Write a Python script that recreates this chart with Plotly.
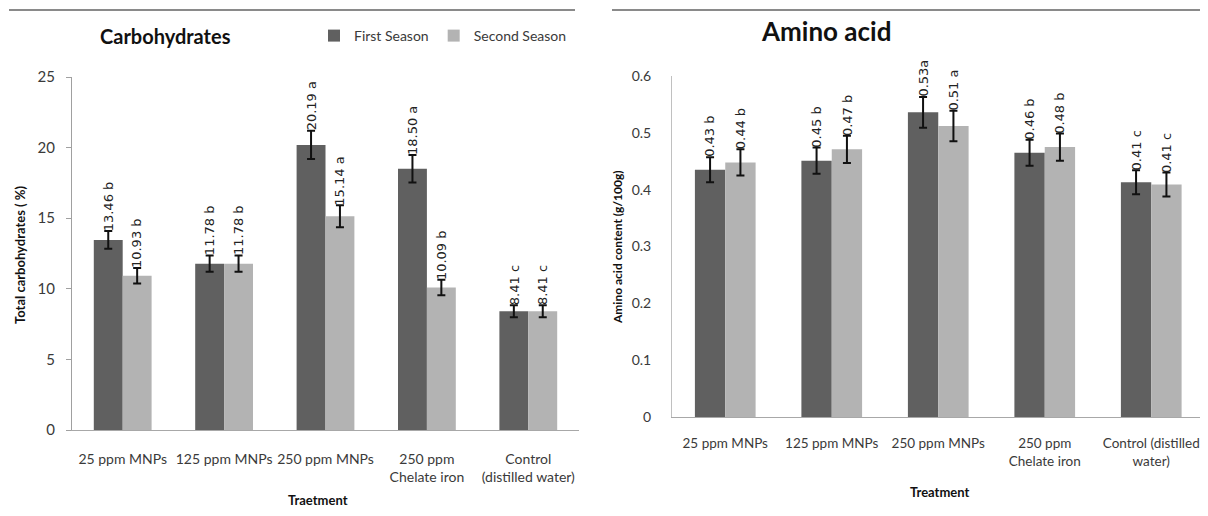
import plotly.graph_objects as go

# ---------------- data ----------------
carb_categories = ["25 ppm MNPs", "125 ppm MNPs", "250 ppm MNPs", "250 ppm<br>Chelate iron", "Control<br>(distilled water)"]
carb_first = [13.46, 11.78, 20.19, 18.50, 8.41]
carb_second = [10.93, 11.78, 15.14, 10.09, 8.41]
carb_first_err = [0.63, 0.58, 1.00, 0.97, 0.42]
carb_second_err = [0.55, 0.58, 0.78, 0.55, 0.42]
carb_first_labels = ["13.46 b", "11.78 b", "20.19 a", "18.50 a", "8.41 c"]
carb_second_labels = ["10.93 b", "11.78 b", "15.14 a", "10.09 b", "8.41 c"]
carb_ticks = [0, 5, 10, 15, 20, 25]

amino_categories = ["25 ppm MNPs", "125 ppm MNPs", "250 ppm MNPs", "250 ppm<br>Chelate iron", "Control (distilled<br>water)"]
amino_first = [0.435, 0.451, 0.536, 0.465, 0.413]
amino_second = [0.448, 0.471, 0.512, 0.475, 0.409]
amino_first_err = [0.022, 0.023, 0.027, 0.023, 0.021]
amino_second_err = [0.023, 0.024, 0.027, 0.024, 0.021]
amino_first_labels = ["0.43 b", "0.45 b", "0.53a", "0.46 b", "0.41 c"]
amino_second_labels = ["0.44 b", "0.47 b", "0.51 a", "0.48 b", "0.41 c"]
amino_ticks = [0, 0.1, 0.2, 0.3, 0.4, 0.5, 0.6]

series_names = ["First Season", "Second Season"]
DARK = "#606060"
LIGHT = "#b3b3b3"
TXT = "#3a3a3a"
FONT = "Lato"

# page body has an 8px margin: figure is sized so the page fits the window exactly
M = 8
W, H = 1208 - 2 * M, 516 - 2 * M

def px(x):  # screen x -> paper
    return (x - M) / W

def py(y):  # screen y -> paper
    return (H - (y - M)) / H

fig = go.Figure()

def add_bars(first, second, ferr, serr, cats, xa, ya, show):
    for vals, errs, color, name in [(first, ferr, DARK, series_names[0]), (second, serr, LIGHT, series_names[1])]:
        fig.add_trace(go.Bar(
            x=cats, y=vals, name=name, marker=dict(color=color, line=dict(width=0)),
            error_y=dict(type="data", array=errs, visible=True, color="#111111", thickness=2, width=4),
            xaxis=xa, yaxis=ya, showlegend=show, legendgroup=name,
        ))

add_bars(carb_first, carb_second, carb_first_err, carb_second_err, carb_categories, "x", "y", True)
add_bars(amino_first, amino_second, amino_first_err, amino_second_err, amino_categories, "x2", "y2", False)

BARGAP = 0.43
off = (1 - BARGAP) / 4

annotations = []
def add_labels(first, second, ferr, serr, fl, sl, xref, yref):
    for i in range(len(first)):
        for vals, errs, labs, sgn in [(first, ferr, fl, -1), (second, serr, sl, 1)]:
            annotations.append(dict(
                x=i + sgn * off, y=vals[i] + errs[i], xref=xref, yref=yref,
                text=labs[i], textangle=-90, showarrow=False,
                xanchor="center", yanchor="bottom", yshift=-2,
                font=dict(family="DejaVu Sans", size=13, color="#222222"),
            ))

add_labels(carb_first, carb_second, carb_first_err, carb_second_err, carb_first_labels, carb_second_labels, "x", "y")
add_labels(amino_first, amino_second, amino_first_err, amino_second_err, amino_first_labels, amino_second_labels, "x2", "y2")

def txt(x, y, text, size, angle=0, color="#111111"):
    return dict(x=px(x), y=py(y), xref="paper", yref="paper", text=text, showarrow=False,
                xanchor="center", yanchor="middle", textangle=angle,
                font=dict(family=FONT, size=size, color=color))

annotations += [
    txt(165, 36, "<b>Carbohydrates</b>", 20),
    txt(826, 31, "<b>Amino acid</b>", 26),
    txt(20, 255, "<b>Total carbohydrates (\u00a0%)</b>", 13, -90),
    txt(617, 247, "<b>Amino acid content (g/100g)</b>", 12, -90),
    txt(318, 500, "<b>Traetment</b>", 13),
    txt(940, 492, "<b>Treatment</b>", 13),
]

shapes = [
    dict(type="line", xref="paper", yref="paper", x0=px(9), x1=px(575), y0=py(10), y1=py(10),
         line=dict(color="#8a8a8a", width=2)),
    dict(type="line", xref="paper", yref="paper", x0=px(612), x1=1.0, y0=py(10), y1=py(10),
         line=dict(color="#8a8a8a", width=2)),
]

axis_common = dict(showgrid=False, zeroline=False, linewidth=1, showline=True, automargin=False)

# right chart: category spacing ~106px from the axis at x=672; the page cuts it at the window edge
sp2 = 106.5
x2_end = -0.5 + (1200 - 672) / sp2

fig.update_layout(
    template="none",
    width=W, height=H, autosize=False,
    margin=dict(l=0, r=0, t=0, b=0, pad=0),
    paper_bgcolor="white", plot_bgcolor="white",
    barmode="group", bargap=BARGAP, bargroupgap=0,
    font=dict(family=FONT, color=TXT),
    xaxis=dict(domain=[px(72), px(579)], anchor="y", **axis_common, linecolor="#a8a8a8",
               tickangle=0, tickfont=dict(family=FONT, size=14, color=TXT), ticks="", ticklabelstandoff=16),
    yaxis=dict(domain=[py(430), py(77)], anchor="x", range=[0, 25], tickvals=carb_ticks, **axis_common,
               linecolor="#a0a0a0", ticks="outside", ticklen=5, tickcolor="#a0a0a0",
               tickfont=dict(family=FONT, size=15, color=TXT), ticklabelstandoff=8),
    xaxis2=dict(domain=[px(672), 1.0], anchor="y2", range=[-0.5, x2_end], **axis_common, linecolor="#a8a8a8",
                tickangle=0, tickfont=dict(family=FONT, size=13.5, color=TXT), ticks="", ticklabelstandoff=14),
    yaxis2=dict(domain=[py(417), py(76)], anchor="x2", range=[0, 0.6], tickvals=amino_ticks,
                tickformat="~g", **axis_common, linecolor="#c0c0c0", ticks="",
                tickfont=dict(family=FONT, size=14, color=TXT), ticklabelstandoff=17),
    legend=dict(orientation="h", x=px(314), y=py(36), xanchor="left", yanchor="middle",
                font=dict(family=FONT, size=14, color=TXT), bgcolor="rgba(0,0,0,0)",
                itemwidth=30, traceorder="normal"),
    annotations=annotations,
    shapes=shapes,
)

fig.write_html("out.html")
